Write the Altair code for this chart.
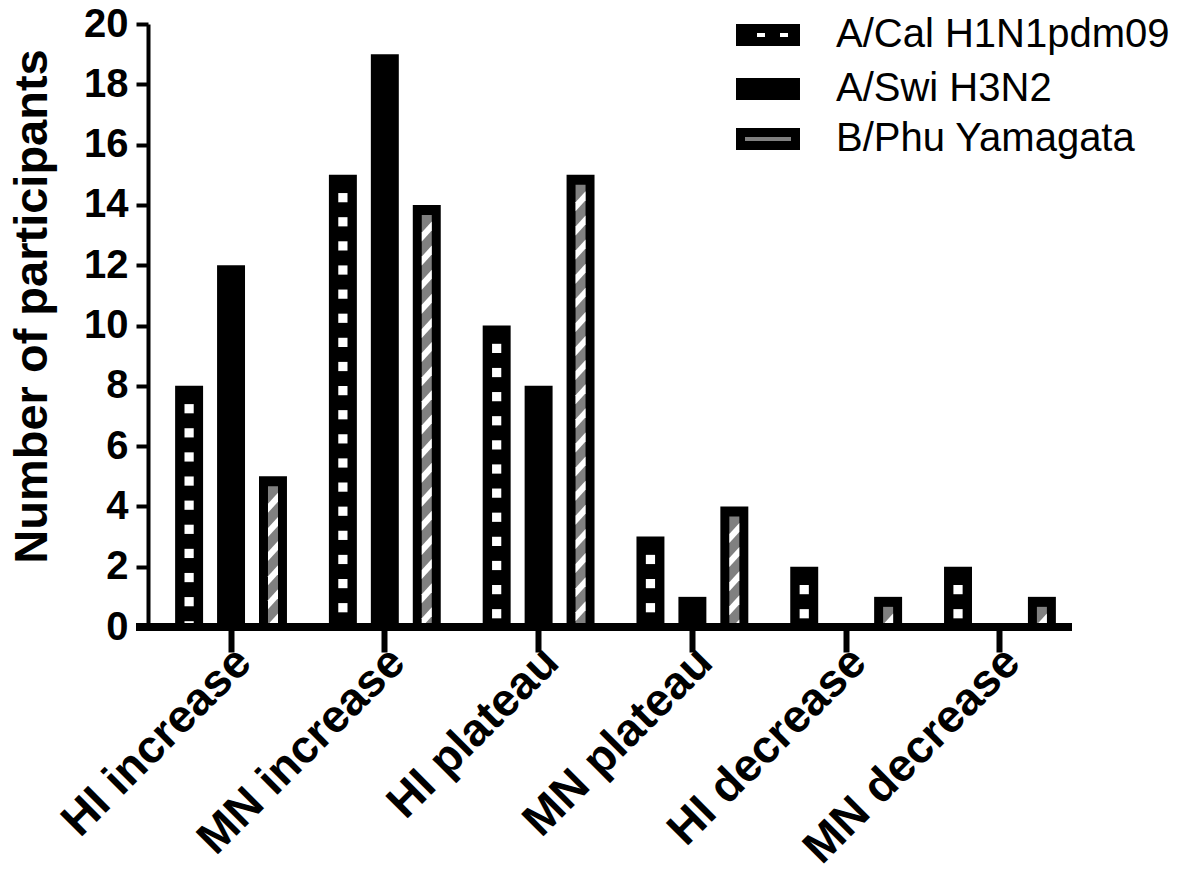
import altair as alt
import pandas as pd

categories = ["HI increase", "MN increase", "HI plateau", "MN plateau", "HI decrease", "MN decrease"]
series = ["A/Cal H1N1pdm09", "A/Swi H3N2", "B/Phu Yamagata"]
cal_values = [8, 15, 10, 3, 2, 2]
swi_values = [12, 19, 8, 1, 0, 0]
phu_values = [5, 14, 15, 4, 1, 1]
y_ticks = [0, 2, 4, 6, 8, 10, 12, 14, 16, 18, 20]

GRAY = "#808080"
FONT = "Liberation Sans"

rows = []
for s, vals in zip(series, [cal_values, swi_values, phu_values]):
    for c, v in zip(categories, vals):
        rows.append({"category": c, "series": s, "value": v})
bars = pd.DataFrame(rows)

# fill-pattern elements (decoration derived from the bar values)
PERIOD = 0.8


def pattern(sname, vals, first):
    out = []
    for c, v in zip(categories, vals):
        if v <= 0:
            continue
        p = v - first
        while p > -0.5:
            out.append({"category": c, "series": sname, "value": p})
            p -= PERIOD
    return pd.DataFrame(out)


dots = pattern(series[0], cal_values, 0.76)
stripes = pattern(series[2], phu_values, 0.88)
inner = bars[bars["series"] == series[2]]

W, H = 935, 603

x_enc = alt.X(
    "category:N",
    sort=categories,
    scale=alt.Scale(domain=categories, paddingInner=0, paddingOuter=0.04),
    axis=alt.Axis(
        title=None, domain=False, ticks=True, tickSize=25, tickWidth=6, tickColor="black",
        labelAngle=-45, labelAlign="right", labelBaseline="top", labelOffset=-3, labelPadding=-13,
        labelFont=FONT, labelFontSize=46, labelFontWeight="bold", labelColor="black",
        labelLimit=1000,
    ),
)
xo_enc = alt.XOffset(
    "series:N", sort=series,
    scale=alt.Scale(domain=series, paddingInner=1 / 3, paddingOuter=0.5),
)
y_enc = alt.Y(
    "value:Q",
    scale=alt.Scale(domain=[0, 20], nice=False, zero=True),
    axis=alt.Axis(
        values=y_ticks, grid=False, title="Number of participants",
        domainColor="black", domainWidth=4, tickColor="black", tickWidth=4, tickSize=12,
        labelPadding=8, labelFont=FONT, labelFontSize=40, labelFontWeight="bold", labelColor="black",
        titleFont=FONT, titleFontSize=47, titleFontWeight="bold", titleColor="black",
        titleAngle=270, titleX=-116, titleY=282, titleAlign="center", titleBaseline="middle",
    ),
)

base_bars = alt.Chart(bars).mark_bar(color="black").encode(x=x_enc, xOffset=xo_enc, y=y_enc)

inner_bars = alt.Chart(inner).mark_bar(color=GRAY, width=10, yOffset=10, clip=True).encode(
    x=x_enc, xOffset=xo_enc, y=y_enc
)

stripe_path = "M -1 0.2 L 1 -2 L 1 -0.2 L -1 2 Z"
stripe_marks = alt.Chart(stripes).mark_point(
    shape=stripe_path, size=100, filled=True, fill="white", opacity=1, strokeWidth=0, clip=True
).encode(x=x_enc, xOffset=xo_enc, y=y_enc)

dot_marks = alt.Chart(dots).mark_square(
    size=85, filled=True, color="white", opacity=1, strokeWidth=0, clip=True
).encode(x=x_enc, xOffset=xo_enc, y=y_enc)

x_line = alt.Chart(bars).mark_rule(color="black", strokeWidth=7).encode(
    x=alt.value(-12), x2=alt.value(924), y=alt.datum(0)
)

sym_cal = ("M -2.909 -1 L 2.909 -1 L 2.909 1 L -2.909 1 Z "
           "M -1 -0.182 L -1 0.182 L -0.273 0.182 L -0.273 -0.182 Z "
           "M 1.091 -0.182 L 1.091 0.182 L 1.818 0.182 L 1.818 -0.182 Z")
sym_swi = "M -2.909 -1 L 2.909 -1 L 2.909 1 L -2.909 1 Z"
sym_phu = "M -2.5 -0.591 L 2.5 -0.591 L 2.5 0.591 L -2.5 0.591 Z"

legend_def = alt.Legend(
    title=None, orient="none", legendX=600, legendY=-9, padding=0,
    labelFont=FONT, labelFontSize=40, labelColor="black", labelLimit=1000,
    symbolSize=484, symbolStrokeWidth=9, labelOffset=48, rowPadding=-4,
)
legend_layer = alt.Chart(pd.DataFrame({"series": series})).transform_filter("false").mark_point(
    filled=True, opacity=1
).encode(
    x=alt.value(0), y=alt.value(0),
    shape=alt.Shape("series:N", sort=series, scale=alt.Scale(domain=series, range=[sym_cal, sym_swi, sym_phu]), legend=legend_def),
    fill=alt.Fill("series:N", sort=series, scale=alt.Scale(domain=series, range=["black", "black", GRAY]), legend=legend_def),
    stroke=alt.Stroke("series:N", sort=series, scale=alt.Scale(domain=series, range=["transparent", "transparent", "black"]), legend=legend_def),
)

chart = alt.layer(base_bars, inner_bars, stripe_marks, dot_marks, x_line, legend_layer).properties(
    width=W, height=H,
    padding={"left": 140, "top": 16, "right": 90, "bottom": 249},
    autosize=alt.AutoSizeParams(type="none"),
    background="white",
).configure_view(strokeWidth=0)

chart.save("out.html", embed_options={"renderer": "svg", "actions": False})
